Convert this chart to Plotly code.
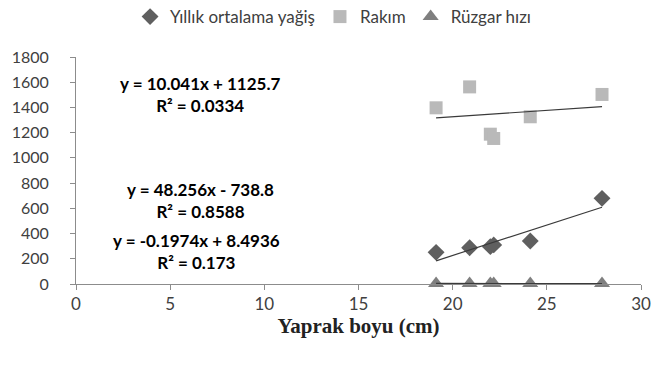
import plotly.graph_objects as go
import numpy as np

# Data
leaf_length = [19.12, 20.90, 22.00, 22.18, 24.12, 27.93]
rainfall = [251, 288, 296, 310, 341, 679]
altitude = [1397, 1563, 1188, 1154, 1326, 1503]
wind = [4.8, 4.2, 4.0, 3.6, 3.9, 3.0]

series_names = ["Yıllık ortalama yağiş", "Rakım", "Rüzgar hızı"]
trend_slopes = [48.256, 10.041, -0.1974]
trend_intercepts = [-738.8, 1125.7, 8.4936]
eq_texts = ["y = 48.256x - 738.8<br>R² = 0.8588",
            "y = 10.041x + 1125.7<br>R² = 0.0334",
            "y = -0.1974x + 8.4936<br>R² = 0.173"]
eq_pos = [(6.6, 666), (6.6, 1506), (6.4, 261)]

x_ticks = [0, 5, 10, 15, 20, 25, 30]
y_ticks = [0, 200, 400, 600, 800, 1000, 1200, 1400, 1600, 1800]

FONT = "Lato"
TXT = "#404040"

fig = go.Figure()
markers = [
    dict(symbol="diamond", size=13, color="#5f5f5f"),
    dict(symbol="square", size=13, color="#b9b9b9"),
    dict(symbol="triangle-up", size=14, color="#7f7f7f"),
]
ys = [rainfall, altitude, wind]
for name, y, m in zip(series_names, ys, markers):
    fig.add_trace(go.Scatter(x=leaf_length, y=y, mode="markers", name=name, cliponaxis=False,
                             marker=dict(line=dict(width=0), **m)))

xr = np.array([min(leaf_length), max(leaf_length)])
for a, b in zip(trend_slopes, trend_intercepts):
    fig.add_trace(go.Scatter(x=xr, y=a * xr + b, mode="lines", showlegend=False,
                             line=dict(color="#3a3a3a", width=1.2), hoverinfo="skip"))

for t, (px, py) in zip(eq_texts, eq_pos):
    fig.add_annotation(x=px, y=py, text=t, showarrow=False, xanchor="center", yanchor="middle",
                       font=dict(family=FONT, size=17, color="black", weight="bold"),
                       align="center")

fig.update_layout(
    width=669, height=367,
    margin=dict(l=75.5, r=28.3, t=57, b=83, autoexpand=False),
    paper_bgcolor="white", plot_bgcolor="white",
    font=dict(family=FONT, color=TXT),
    legend=dict(orientation="h", x=0.455, xanchor="center", y=1.176, yanchor="middle",
                font=dict(family=FONT, size=17, color=TXT), itemwidth=30,
                bgcolor="rgba(0,0,0,0)"),
    xaxis=dict(range=[0, 30], tickvals=x_ticks, showgrid=False, zeroline=False,
               showline=True, linecolor="#8c8c8c", linewidth=1, automargin=False,
               ticks="outside", ticklen=5, tickcolor="#8c8c8c",
               tickfont=dict(family=FONT, size=17, color=TXT),
               title=dict(text="<b>Yaprak boyu (cm)</b>", standoff=4,
                          font=dict(family="Liberation Serif", size=21, color="#222222"))),
    yaxis=dict(range=[0, 1800], tickvals=y_ticks, showgrid=False, zeroline=False,
               showline=True, linecolor="#8c8c8c", linewidth=1, automargin=False,
               ticks="outside", ticklen=5, tickcolor="#8c8c8c", ticklabelstandoff=18,
               tickfont=dict(family=FONT, size=16, color=TXT)),
)

fig.write_html("out.html")
